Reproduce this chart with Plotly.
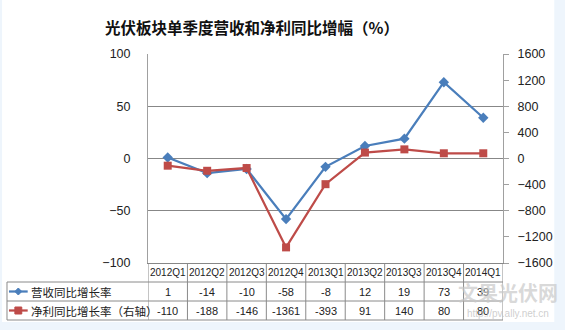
import plotly.graph_objects as go

# Quarterly year-on-year growth of the PV sector (%)
quarters = ["2012Q1", "2012Q2", "2012Q3", "2012Q4", "2013Q1",
            "2013Q2", "2013Q3", "2013Q4", "2014Q1"]
revenue_growth = [1, -14, -10, -58, -8, 12, 19, 73, 39]
profit_growth = [-110, -188, -146, -1361, -393, 91, 140, 80, 80]
series_names = ["营收同比增长率", "净利同比增长率（右轴）"]
left_ticks = [-100, -50, 0, 50, 100]
right_ticks = [-1600, -1200, -800, -400, 0, 400, 800, 1200, 1600]

W, H = 565, 330
PL, PR, PT, PB = 148, 508, 54, 263          # plot box in pixels
BLUE, RED = "#4A7EBB", "#BE4B48"
GRID = "#878787"
FONT = "Noto Sans CJK SC, Microsoft YaHei, sans-serif"
NUMFONT = "Liberation Sans, Arial, sans-serif"


def px_x(x):
    return (x - PL) / (PR - PL)


def px_y(y):
    return (PB - y) / (PB - PT)


def label(x, y, text, size, family=FONT, xref="paper", xanchor="center", color="#222"):
    return dict(x=x, y=y, xref=xref, yref="paper", text=text, showarrow=False,
                xanchor=xanchor, yanchor="middle",
                font=dict(size=size, color=color, family=family))


fig = go.Figure()
fig.add_trace(go.Scatter(
    x=quarters, y=revenue_growth, name=series_names[0], mode="lines+markers",
    line=dict(color=BLUE, width=2.25),
    marker=dict(symbol="diamond", size=8, color=BLUE), yaxis="y"))
fig.add_trace(go.Scatter(
    x=quarters, y=profit_growth, name=series_names[1], mode="lines+markers",
    line=dict(color=RED, width=2.25),
    marker=dict(symbol="square", size=8, color=RED), yaxis="y2"))

shapes = []
annotations = []

# white chart area on the light page background
shapes.append(dict(type="rect", xref="paper", yref="paper", layer="below",
                   x0=px_x(0), x1=px_x(560), y0=px_y(322), y1=px_y(0),
                   fillcolor="white", line=dict(width=0)))

# data table under the plot
line_style = dict(color="#8A8A8A", width=1)
for y in [282, 301, 320]:
    shapes.append(dict(type="line", xref="paper", yref="paper",
                       x0=px_x(5), x1=px_x(PR), y0=px_y(y), y1=px_y(y),
                       line=line_style))
shapes.append(dict(type="line", xref="paper", yref="paper",
                   x0=px_x(5), x1=px_x(5), y0=px_y(282), y1=px_y(320),
                   line=line_style))
for k in range(len(quarters) + 1):
    shapes.append(dict(type="line", xref="x", yref="paper",
                       x0=k - 0.5, x1=k - 0.5, y0=px_y(PB), y1=px_y(320),
                       line=line_style))

row_centers = [272.5, 291.5, 310.5]
for i, q in enumerate(quarters):
    annotations.append(label(i, px_y(row_centers[0]), q, 10, NUMFONT, xref="x"))
    annotations.append(label(i, px_y(row_centers[1]), str(revenue_growth[i]), 11, NUMFONT, xref="x"))
    annotations.append(label(i, px_y(row_centers[2]), str(profit_growth[i]), 11, NUMFONT, xref="x"))

# legend keys inside the table
for r, (name, color) in enumerate(zip(series_names, [BLUE, RED])):
    cy = row_centers[r + 1]
    yc = px_y(cy)
    shapes.append(dict(type="line", xref="paper", yref="paper",
                       x0=px_x(7), x1=px_x(26), y0=yc, y1=yc,
                       line=dict(color=color, width=2.25)))
    if r == 0:
        cx = 16.5
        path = (f"M {px_x(cx - 3.5)} {px_y(cy)} L {px_x(cx)} {px_y(cy - 3.5)} "
                f"L {px_x(cx + 3.5)} {px_y(cy)} L {px_x(cx)} {px_y(cy + 3.5)} Z")
        shapes.append(dict(type="path", xref="paper", yref="paper", path=path,
                           fillcolor=color, line=dict(color=color, width=1)))
    else:
        shapes.append(dict(type="rect", xref="paper", yref="paper",
                           x0=px_x(13), x1=px_x(20), y0=px_y(cy + 3.5), y1=px_y(cy - 3.5),
                           fillcolor=color, line=dict(color=color, width=1)))
    annotations.append(label(px_x(27), yc, name, 11.5, xanchor="left"))

# title
annotations.append(label(px_x(253), px_y(27), "<b>光伏板块单季度营收和净利同比增幅（%）</b>",
                         15.5, color="#111"))

# site watermark
annotations.append(label(px_x(513), px_y(292), "<b>文果光伏网</b>", 20,
                         color="rgba(200,200,200,0.7)"))
annotations.append(label(px_x(513), px_y(313), "http://pv.ally.net.cn", 10, NUMFONT,
                         color="rgba(190,190,190,0.75)"))

fig.update_layout(
    width=W, height=H,
    margin=dict(l=PL, r=W - PR, t=PT, b=H - PB, pad=0),
    paper_bgcolor="#EEF5FC", plot_bgcolor="white",
    showlegend=False,
    font=dict(family=FONT, color="#222"),
    xaxis=dict(type="category", range=[-0.5, len(quarters) - 0.5],
               showticklabels=False, showgrid=False, zeroline=False,
               showline=True, linecolor=GRID, linewidth=1, ticks=""),
    yaxis=dict(range=[-100, 100], tickvals=left_ticks,
               showgrid=True, gridcolor=GRID, gridwidth=1, zeroline=False,
               showline=True, linecolor="#A0A0A0", linewidth=1,
               ticks="", ticklabelstandoff=14,
               tickfont=dict(size=12.5, family=NUMFONT, color="#222")),
    yaxis2=dict(range=[-1600, 1600], tickvals=right_ticks, overlaying="y",
                side="right", showgrid=False, zeroline=False,
                showline=True, linecolor="#A0A0A0", linewidth=1,
                ticks="outside", ticklen=5, tickcolor="#A0A0A0",
                ticklabelstandoff=6,
                tickfont=dict(size=12.5, family=NUMFONT, color="#222")),
    shapes=shapes, annotations=annotations,
)

fig.write_html("out.html")
